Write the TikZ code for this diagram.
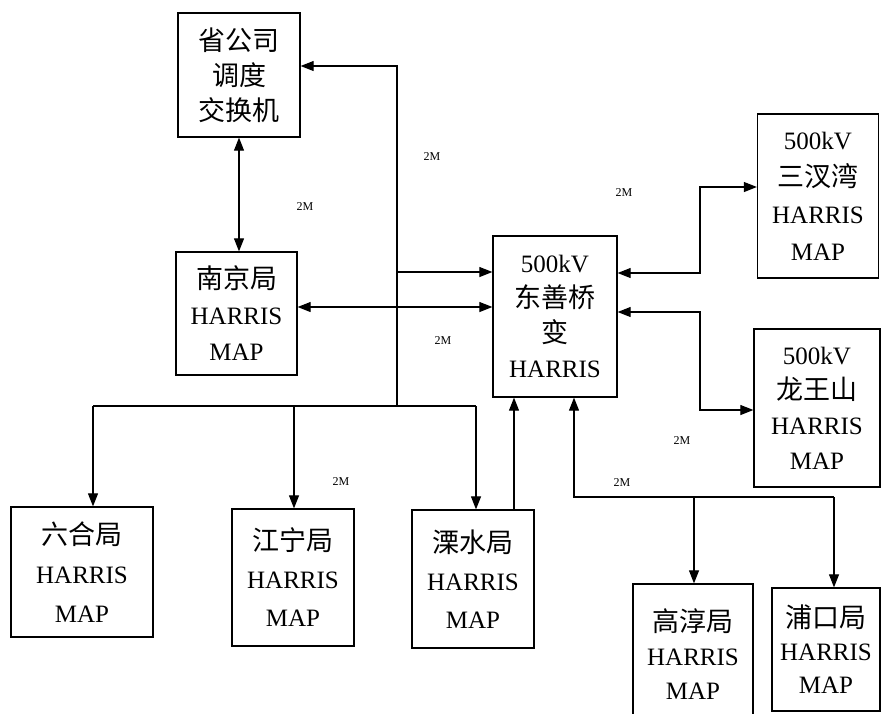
\documentclass[tikz,border=0pt]{standalone}
\usepackage{fontspec}
\setmainfont{Liberation Serif}
\newfontfamily\cjk{Noto Sans CJK SC}
\newcommand\zh[1]{{\cjk\fontsize{27}{27}\selectfont #1}}
\usetikzlibrary{arrows.meta}
\begin{document}
\begin{tikzpicture}[x=1pt,y=-1pt,
  box/.style={draw,line width=1.3pt,rectangle,align=center,inner sep=0pt,font=\fontsize{25}{#1}\selectfont},
  box/.default=40,
  con/.style={line width=1.1pt},
  tipend/.style={-{Triangle[length=13pt,width=10pt]}},
  tipboth/.style={{Triangle[length=13pt,width=10pt]}-{Triangle[length=13pt,width=10pt]}},
  lbl/.style={font=\fontsize{12}{12}\selectfont,inner sep=0pt}
]
\useasboundingbox (0,0) rectangle (882,713);
\clip (0,0) rectangle (882,713);
\fill[white] (0,0) rectangle (882,713);

% boxes
\node[box=35,minimum width=122pt,minimum height=124pt] (sgs) at (239,75) {\zh{省公司}\\\zh{调度}\\\zh{交换机}};
\node[box=36,minimum width=121pt,minimum height=123pt] (nj) at (236.5,313.5) {\zh{南京局}\\HARRIS\\MAP};
\node[box=35,minimum width=124pt,minimum height=161pt] (db) at (555,316.5) {500kV\\\zh{东善桥}\\\zh{变}\\HARRIS};
\node[box=37,minimum width=121pt,minimum height=164pt] (sch) at (818,196) {500kV\\\zh{三汊湾}\\HARRIS\\MAP};
\node[box=35,minimum width=126pt,minimum height=158pt] (lws) at (817,408) {500kV\\\zh{龙王山}\\HARRIS\\MAP};
\node[box=39,minimum width=142pt,minimum height=130pt] (lh) at (82,572) {\zh{六合局}\\HARRIS\\MAP};
\node[box=38,minimum width=122pt,minimum height=137pt] (jn) at (293,577.5) {\zh{江宁局}\\HARRIS\\MAP};
\node[box=38,minimum width=122pt,minimum height=138pt] (ls) at (473,579) {\zh{溧水局}\\HARRIS\\MAP};
\node[box=34,minimum width=120pt,minimum height=140pt] (gc) at (693,654) {\zh{高淳局}\\HARRIS\\MAP};
\node[box=33,minimum width=108pt,minimum height=123pt] (pk) at (826,649.5) {\zh{浦口局}\\HARRIS\\MAP};

% connectors
\draw[con,tipboth] (sgs.south) -- (sgs.south |- nj.north);

\coordinate (jA) at (397,406);
\coordinate (tTop) at (397,66);
\draw[con,tipend] (jA) -- (tTop) -- (sgs.east |- tTop);
\coordinate (tMid) at (397,272);
\draw[con,tipend] (tMid) -- (db.west |- tMid);
\coordinate (yNJ) at (0,307);
\draw[con,tipboth] (nj.east |- yNJ) -- (db.west |- yNJ);

\coordinate (bL) at (93,406);
\coordinate (bR) at (476,406);
\coordinate (bJ) at (294,406);
\draw[con] (bL) -- (bR);
\draw[con,tipend] (bL) -- (bL |- lh.north);
\draw[con,tipend] (bJ) -- (bJ |- jn.north);
\draw[con,tipend] (bR) -- (bR |- ls.north);
\coordinate (lsU) at (514,0);
\draw[con,tipend] (ls.north -| lsU) -- (db.south -| lsU);

\coordinate (r1) at (700,273);
\coordinate (r1t) at (700,187);
\draw[con,tipboth] (db.east |- r1) -- (r1) -- (r1t) -- (sch.west |- r1t);
\coordinate (r2) at (700,312);
\coordinate (r2b) at (700,410);
\draw[con,tipboth] (db.east |- r2) -- (r2) -- (r2b) -- (lws.west |- r2b);

\coordinate (s1) at (574,497);
\coordinate (s2) at (834,497);
\coordinate (s3) at (694,497);
\draw[con,tipend] (s2) -- (s1) -- (db.south -| s1);
\draw[con,tipend] (s3) -- (s3 |- gc.north);
\draw[con,tipend] (s2) -- (s2 |- pk.north);

% labels
\node[lbl] (m1) at (305,207) {2M};
\node[lbl] (m2) at (432,157) {2M};
\node[lbl] (m3) at (624,193) {2M};
\node[lbl] (m4) at (443,341) {2M};
\node[lbl] (m5) at (682,441) {2M};
\node[lbl] (m6) at (622,483) {2M};
\node[lbl] (m7) at (341,482) {2M};
\end{tikzpicture}
\end{document}
